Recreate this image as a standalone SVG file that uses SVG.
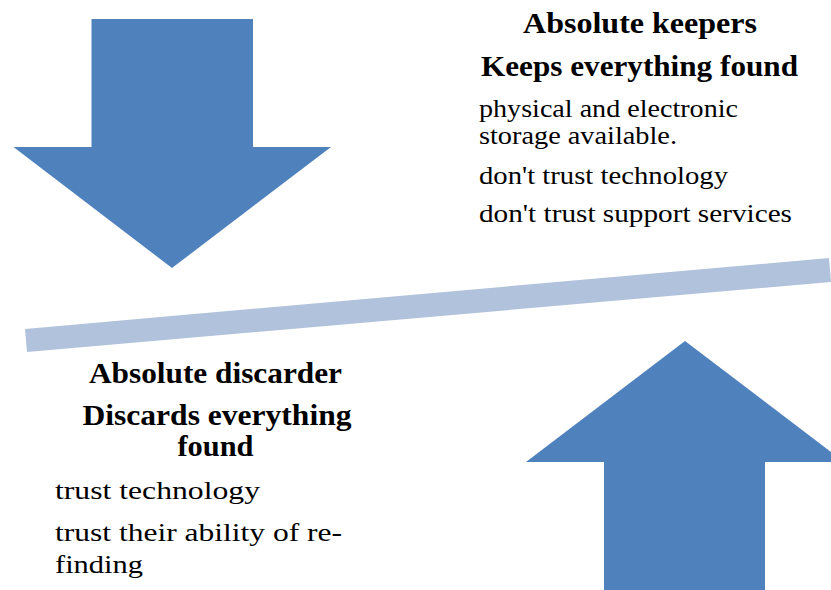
<svg xmlns="http://www.w3.org/2000/svg" width="831" height="590" viewBox="0 0 831 590">
<style>
.arrow{fill:#4F81BD}
.bar{fill:#B1C2DC}
text{font-family:"Liberation Serif","Times New Roman",serif;fill:#000}
.h{font-weight:bold;font-size:29px;text-anchor:middle}
.b{font-size:26px}
</style>
<rect width="831" height="590" fill="#ffffff"/>
<g id="down-arrow">
<polygon class="arrow" points="91.5,19 253,19 253,147 331,147 172,268 13.5,147 91.5,147"/>
</g>
<g id="balance-bar">
<polygon class="bar" points="25,329 27,352 831,282 829,258"/>
</g>
<g id="up-arrow">
<polygon class="arrow" points="685,341 844,462 765,462 765,590 604,590 604,462 526,462"/>
</g>
<g id="keepers">
<text class="h" x="640" y="33" textLength="234" lengthAdjust="spacingAndGlyphs">Absolute keepers</text>
<text class="h" x="639.5" y="76" textLength="317" lengthAdjust="spacingAndGlyphs">Keeps everything found</text>
<text class="b" x="479" y="117" textLength="259" lengthAdjust="spacingAndGlyphs">physical and electronic</text>
<text class="b" x="479" y="144" textLength="198" lengthAdjust="spacingAndGlyphs">storage available.</text>
<text class="b" x="479" y="184" textLength="249" lengthAdjust="spacingAndGlyphs">don't trust technology</text>
<text class="b" x="479" y="222" textLength="313" lengthAdjust="spacingAndGlyphs">don't trust support services</text>
</g>
<g id="discarder">
<text class="h" x="215.5" y="383" textLength="253" lengthAdjust="spacingAndGlyphs">Absolute discarder</text>
<text class="h" x="217" y="425" textLength="269" lengthAdjust="spacingAndGlyphs">Discards everything</text>
<text class="h" x="215.5" y="456" textLength="76" lengthAdjust="spacingAndGlyphs">found</text>
<text class="b" x="55" y="499" textLength="205" lengthAdjust="spacingAndGlyphs">trust technology</text>
<text class="b" x="55" y="541" textLength="287" lengthAdjust="spacingAndGlyphs">trust their ability of re-</text>
<text class="b" x="55" y="573" textLength="88" lengthAdjust="spacingAndGlyphs">finding</text>
</g>
</svg>
